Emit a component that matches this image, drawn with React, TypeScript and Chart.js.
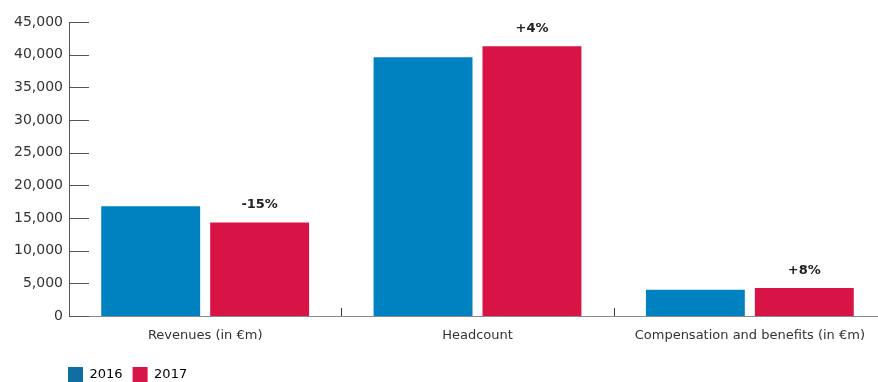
import { useEffect, useRef } from 'react';
import { Chart, registerables } from 'chart.js';

Chart.register(...registerables);

// Chart data
const categories = ['Revenues (in €m)', 'Headcount', 'Compensation and benefits (in €m)'];
const seriesNames = ['2016', '2017'];
const values2016 = [16800, 39600, 4000];
const values2017 = [14300, 41300, 4300];
const changeLabels = ['-15%', '+4%', '+8%'];
const yMax = 45000;
const yStep = 5000;

const barColors = ['#0082C0', '#D81446'];
const legendColors = ['#106EA0', '#D81548'];

const FONT = "'DejaVu Sans', 'Open Sans', sans-serif";
const LEGEND_LEFT = 58;

// Short tick marks to the right of the y axis, category separators on the
// x axis, and the year-on-year change above each 2017 bar.
const decorations = {
  id: 'decorations',
  afterLayout(chart: any) {
    // line the legend up under the y axis instead of the canvas edge
    if (chart.legend) chart.legend.left = LEGEND_LEFT;
  },
  afterDatasetsDraw(chart: any) {
    const { ctx, chartArea, scales } = chart;
    const x = scales.x;
    const y = scales.y;
    ctx.save();
    ctx.lineWidth = 1;
    ctx.strokeStyle = '#555555';
    y.ticks.forEach((t: any) => {
      const py = Math.round(y.getPixelForValue(t.value)) + 0.5;
      ctx.beginPath();
      ctx.moveTo(chartArea.left, py);
      ctx.lineTo(chartArea.left + 20, py);
      ctx.stroke();
    });

    ctx.strokeStyle = '#333333';
    for (let i = 0; i < categories.length - 1; i++) {
      const px = Math.round((x.getPixelForValue(i) + x.getPixelForValue(i + 1)) / 2) + 0.5;
      ctx.beginPath();
      ctx.moveTo(px, chartArea.bottom - 8);
      ctx.lineTo(px, chartArea.bottom);
      ctx.stroke();
    }

    const meta = chart.getDatasetMeta(1);
    ctx.fillStyle = '#222222';
    ctx.font = `bold 13px ${FONT}`;
    ctx.textAlign = 'center';
    ctx.textBaseline = 'bottom';
    meta.data.forEach((bar: any, i: number) => {
      ctx.fillText(changeLabels[i], bar.x, bar.y - 11);
    });
    ctx.restore();
  },
};

export default function App() {
  const canvasRef = useRef<HTMLCanvasElement | null>(null);

  useEffect(() => {
    if (!canvasRef.current) return;
    Chart.defaults.font.family = FONT;
    const chart = new Chart(canvasRef.current, {
      type: 'bar',
      data: {
        labels: categories,
        datasets: [
          {
            label: seriesNames[0],
            data: values2016,
            backgroundColor: barColors[0],
            categoryPercentage: 0.8,
            barPercentage: 0.908,
          },
          {
            label: seriesNames[1],
            data: values2017,
            backgroundColor: barColors[1],
            categoryPercentage: 0.8,
            barPercentage: 0.908,
          },
        ],
      },
      options: {
        responsive: false,
        animation: false,
        layout: { padding: { left: 0, right: 6, top: 22, bottom: 0 } },
        plugins: {
          tooltip: { enabled: false },
          legend: {
            position: 'bottom',
            align: 'start',
            labels: {
              boxWidth: 15,
              boxHeight: 15,
              padding: 10,
              color: '#333333',
              font: { size: 13, family: FONT },
              generateLabels: (c: any) =>
                c.data.datasets.map((ds: any, i: number) => ({
                  text: ds.label,
                  fillStyle: legendColors[i],
                  strokeStyle: legendColors[i],
                  lineWidth: 0,
                  hidden: false,
                  datasetIndex: i,
                })),
            },
          },
        },
        scales: {
          x: {
            grid: { display: false, drawTicks: false },
            border: { display: true, color: '#8a8a8a', width: 1 },
            ticks: {
              color: '#333333',
              padding: 12,
              maxRotation: 0,
              font: { size: 13, family: FONT },
            },
            afterFit: (scale: any) => {
              scale.height = 41;
            },
          },
          y: {
            min: 0,
            max: yMax,
            grid: { display: false, drawTicks: false },
            border: { display: true, color: '#555555', width: 1 },
            ticks: {
              stepSize: yStep,
              padding: 6,
              color: '#333333',
              font: { size: 14, family: FONT },
              callback: (v: any) => Number(v).toLocaleString('en-US'),
            },
            afterFit: (scale: any) => {
              scale.width = 69;
            },
          },
        },
      },
      plugins: [decorations],
    });
    return () => chart.destroy();
  }, []);

  return (
    <div
      style={{
        position: 'fixed',
        left: 0,
        top: 0,
        width: 878,
        height: 382,
        overflow: 'hidden',
        background: '#ffffff',
      }}
    >
      <canvas ref={canvasRef} width={892} height={392} style={{ display: 'block' }} />
    </div>
  );
}
